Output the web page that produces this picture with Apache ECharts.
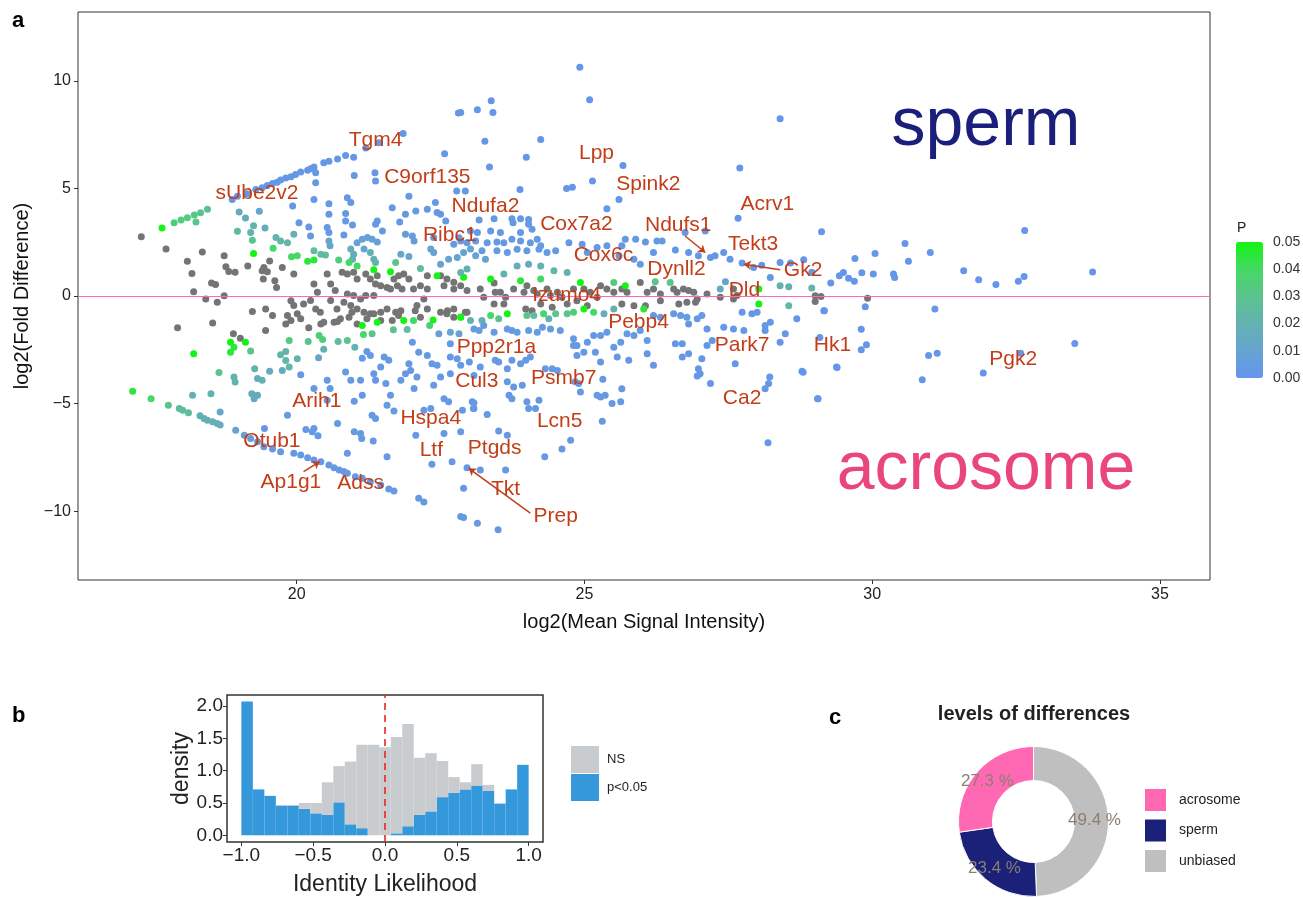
<!DOCTYPE html>
<html>
<head>
<meta charset="utf-8">
<script src="https://cdn.jsdelivr.net/npm/echarts@6/dist/echarts.min.js"></script>
<style>
  html, body { margin: 0; padding: 0; background: #fff; }
  #main { width: 1303px; height: 897px; }
</style>
</head>
<body>
<div id="main"></div>
<script>
// ---- panel a: MA plot ----
// non significant proteins [log2 mean intensity, log2 fold difference]
const nsPoints = [
  [17.30,2.75],[17.73,2.18],[18.10,1.61],[18.36,2.04],[18.18,1.05],[18.74,1.87],[18.77,1.36],[18.82,1.14],[18.93,1.10],[19.15,1.40],
  [18.52,0.60],[18.59,0.54],[18.21,0.20],[18.74,0.01],[19.43,1.33],[19.40,1.17],[19.49,1.13],[19.53,1.63],[19.42,0.79],[19.62,0.71],[19.65,0.40],
  [19.75,1.33],[19.95,1.02],[20.30,0.56],[20.59,0.56],[20.67,0.25],[20.36,0.17],[20.24,-0.21],[19.95,-0.44],[19.84,-0.91],[20.07,-1.06],
  [20.53,1.02],[20.79,1.10],[20.88,1.02],[20.99,1.10],[21.05,0.79],[21.20,1.02],[21.28,0.79],[21.40,0.94],[21.37,0.56],[21.46,0.48],
  [21.57,0.40],[21.69,0.79],[21.77,0.94],[21.86,1.02],[21.95,0.79],[21.75,0.48],[21.63,0.33],[21.83,0.33],[22.03,0.33],[22.15,0.48],
  [22.27,0.33],[22.27,0.94],[22.50,0.94],[22.61,0.79],[22.73,0.64],[22.85,0.48],[22.96,0.25],[22.73,0.33],[22.56,0.48],[22.21,-0.14],
  [22.09,-0.44],[22.06,-0.68],[22.27,-0.60],[22.50,-0.75],[22.61,-0.83],[22.73,-0.60],[22.93,-0.75],[20.59,-0.21],[20.70,-0.60],[20.82,-0.29],
  [20.94,-0.44],[20.96,-0.75],[21.05,-0.60],[21.17,-0.75],[21.22,-1.06],[21.28,-0.83],[21.46,-0.75],[21.57,-0.60],[21.72,-0.75],[21.77,-0.91],
  [20.76,-1.06],[20.65,-1.22],[20.47,-1.22],[20.41,-0.75],[21.11,-0.14],[20.88,0.09],[20.99,0.02],[21.20,0.02],[21.34,0.02],
  [17.93,-1.48],[18.54,-1.25],[18.42,-0.14],[18.62,-0.29],[19.23,-0.72],[19.46,-0.60],[19.58,-0.91],[19.46,-1.60],[18.90,-1.76],[19.02,-1.96],
  [19.90,-0.22],[20.01,-0.83],[19.90,-1.14],[19.81,-1.30],[20.12,-0.37],[20.33,-0.60],[20.21,-1.48],[20.42,-1.30],[20.71,-1.19],[20.91,-0.99],
  [21.05,-1.30],[21.34,-0.83],[21.46,-1.14],[21.66,-1.14],[21.81,-0.68],[22.15,-0.99],[22.62,-0.68],[22.73,-0.99],[22.96,-0.76],
  [23.19,0.32],[23.43,0.60],[23.54,0.17],[23.77,0.32],[24.00,0.48],[24.12,0.25],[24.35,0.32],[24.53,0.17],[24.81,0.32],[25.10,0.17],
  [25.28,0.48],[25.39,0.32],[25.65,0.32],[25.74,0.17],[25.97,0.63],[26.20,0.32],[26.32,0.09],[26.61,0.17],[26.72,0.32],[26.90,0.17],
  [26.96,-0.14],[27.13,0.09],[27.36,-0.06],[27.59,0.32],[27.65,0.02],
  [23.25,-0.06],[23.45,0.17],[23.63,-0.06],[23.95,0.17],[24.18,0.09],[24.41,0.02],[24.61,-0.06],[24.99,0.32],[25.22,-0.06],[25.51,0.17],
  [26.09,0.17],[26.55,0.32],[26.81,0.25],
  [23.43,-0.37],[23.60,-0.37],[23.98,-0.60],[24.09,-0.68],[24.24,-0.37],[24.44,-0.52],[24.70,-0.37],[24.87,-0.22],[25.05,-0.45],[25.65,-0.37],
  [25.86,-0.45],[26.06,-0.45],[26.32,-0.22],[26.64,-0.37],[26.78,-0.29],[26.93,-0.29],[27.59,-0.14],
  [29.01,0.01],[29.11,-0.02],[29.01,-0.25],[29.92,-0.11]
];

// significant proteins [log2 mean intensity, log2 fold difference, P]
const sigPoints = [
  [17.66,3.16,0.05],[17.87,3.41,0.035],[17.99,3.53,0.035],[18.10,3.64,0.033],[18.22,3.76,0.032],[18.33,3.87,0.03],[18.45,4.03,0.028],[18.25,3.44,0.03],
  [19.00,3.90,0.015],[19.11,3.63,0.015],[19.35,3.94,0.012],[19.25,3.27,0.02],[18.97,3.01,0.025],[19.20,2.95,0.02],[19.23,2.59,0.03],[19.45,3.16,0.015],
  [19.64,2.72,0.02],[19.25,1.98,0.05],[19.59,2.22,0.04],
  [18.88,4.49,0.002],[18.97,4.64,0.002],[19.14,4.75,0.002],[19.29,4.95,0.002],[19.40,5.03,0.002],[19.49,5.14,0.002],[19.58,5.23,0.002],[19.66,5.29,0.002],
  [19.72,5.39,0.002],[19.81,5.48,0.002],[19.90,5.54,0.002],[19.98,5.65,0.002],[20.07,5.76,0.002],[20.19,5.85,0.002],[20.24,5.91,0.002],[20.30,6.00,0.002],
  [20.47,6.19,0.002],[20.56,6.26,0.002],[20.71,6.37,0.002],[20.85,6.53,0.002],[20.99,6.45,0.002],[21.20,6.88,0.002],[21.43,7.12,0.002],[21.85,7.55,0.002],
  [22.81,8.50,0.002],[22.85,8.53,0.002],[23.14,8.66,0.002],
  [21.00,5.60,0.003],[20.33,5.73,0.003],[20.33,5.26,0.003],[22.57,6.61,0.003],[21.36,5.73,0.003],[21.37,5.34,0.003],[21.95,4.64,0.003],[21.66,4.10,0.003],
  [21.89,3.80,0.003],[22.07,3.95,0.003],[22.27,4.03,0.003],[22.41,4.34,0.003],[22.44,3.88,0.003],[22.50,3.80,0.003],[22.78,4.88,0.003],[22.93,4.88,0.003],
  [22.59,3.49,0.003],[21.79,3.44,0.003],[21.49,3.02,0.003],[21.40,3.49,0.003],[21.37,3.33,0.003],[20.88,4.57,0.003],[20.94,4.34,0.003],[20.56,4.29,0.003],
  [20.56,3.80,0.003],[20.85,3.84,0.003],[20.85,3.49,0.003],[20.97,3.30,0.003],[20.82,2.84,0.003],[20.53,3.18,0.003],[20.56,2.95,0.003],[20.21,3.21,0.003],
  [20.04,3.41,0.003],[20.24,2.79,0.003],[20.30,4.49,0.003],[19.93,4.18,0.003],[20.56,2.56,0.012],[20.58,2.33,0.012],[19.95,2.87,0.02],
  [19.72,2.56,0.022],[19.84,2.48,0.022],[20.30,2.10,0.025],[20.42,1.94,0.025],[20.50,1.90,0.025],[21.05,2.48,0.008],[21.14,2.64,0.008],[21.23,2.72,0.008],
  [21.31,2.64,0.008],[21.40,2.51,0.008],[20.94,2.18,0.018],[20.99,1.94,0.018],[20.97,1.71,0.018],[21.17,2.18,0.012],[21.28,2.02,0.02],[21.34,1.71,0.02],
  [21.37,1.56,0.02],
  [19.91,1.82,0.04],[20.01,1.87,0.04],[20.19,1.61,0.045],[20.30,1.67,0.045],[20.73,1.67,0.035],[20.91,1.56,0.04],[21.05,1.40,0.04],[21.34,1.22,0.05],
  [21.63,1.13,0.05],[21.72,1.56,0.03],[22.15,1.28,0.025],[22.44,0.94,0.05],[22.90,0.87,0.05],[21.81,1.94,0.012],[21.95,1.84,0.012],[22.33,2.18,0.01],
  [22.38,2.02,0.01],[22.50,1.48,0.01],[22.64,1.71,0.01],[22.79,1.79,0.01],[22.90,2.02,0.01],[23.02,2.18,0.01],[22.96,1.25,0.02],
  [21.89,2.87,0.006],[22.01,2.79,0.006],[22.04,2.56,0.006],[22.38,2.72,0.003],[22.73,2.41,0.003],[22.85,2.56,0.003],
  [18.85,-2.15,0.05],[18.91,-2.38,0.045],[19.11,-2.15,0.05],[18.85,-2.61,0.045],[19.20,-2.56,0.03],[18.21,-2.68,0.05],[17.15,-4.43,0.045],[17.47,-4.77,0.04],
  [17.77,-5.08,0.03],[17.96,-5.23,0.025],[18.02,-5.31,0.025],[18.12,-5.43,0.025],[18.32,-5.57,0.018],[18.39,-5.69,0.018],[18.45,-5.77,0.018],[18.54,-5.85,0.018],
  [18.62,-5.93,0.017],[18.67,-6.00,0.016],[18.94,-6.24,0.01],[19.09,-6.47,0.008],[19.20,-6.62,0.006],
  [19.32,-6.77,0.003],[19.43,-7.01,0.003],[19.58,-7.11,0.003],[19.72,-7.24,0.003],[19.95,-7.31,0.003],[20.07,-7.39,0.003],[20.19,-7.52,0.003],[20.30,-7.62,0.003],
  [20.42,-7.70,0.003],[20.56,-7.86,0.003],[20.65,-7.98,0.003],[20.74,-8.09,0.003],[20.82,-8.16,0.003],[20.88,-8.24,0.003],[21.02,-8.40,0.003],[21.14,-8.47,0.003],
  [21.28,-8.63,0.003],[21.46,-8.78,0.003],[21.60,-8.97,0.003],[21.69,-9.06,0.003],[22.12,-9.40,0.003],[22.21,-9.58,0.003],[22.85,-10.25,0.003],[22.90,-10.30,0.003],
  [23.14,-10.56,0.003],
  [18.19,-4.61,0.02],[18.51,-4.54,0.02],[18.67,-5.39,0.012],[18.91,-3.76,0.02],[18.93,-4.00,0.02],[18.65,-3.56,0.03],[19.27,-3.38,0.02],[19.32,-3.84,0.018],
  [19.40,-3.92,0.018],[19.53,-3.50,0.015],[19.22,-4.54,0.015],[19.26,-4.77,0.015],[19.32,-4.61,0.015],[19.72,-2.73,0.022],[19.81,-2.58,0.022],[19.81,-3.00,0.022],
  [19.87,-3.30,0.022],[20.01,-2.92,0.02],[19.75,-3.46,0.015],[19.87,-2.07,0.035],[20.20,-2.11,0.03],[20.39,-1.84,0.035],[20.45,-2.02,0.035],[20.47,-2.48,0.02],
  [20.38,-2.87,0.012],[20.72,-2.11,0.025],[20.88,-2.07,0.03],[21.01,-2.38,0.02],[21.16,-1.79,0.04],[21.31,-1.76,0.03],[21.68,-1.57,0.03],[21.92,-1.56,0.025],
  [22.31,-1.37,0.035],[22.37,-1.11,0.05],[21.14,-1.37,0.05],[21.40,-1.22,0.05],[21.86,-1.14,0.05],[22.03,-1.14,0.04],[22.85,-0.98,0.04],
  [20.07,-3.66,0.003],[20.30,-4.30,0.003],[20.53,-3.92,0.003],[20.58,-4.30,0.003],[20.85,-3.53,0.003],[20.94,-3.92,0.003],[21.14,-2.89,0.003],[21.22,-2.58,0.003],
  [21.28,-2.76,0.003],[21.11,-3.92,0.003],[21.14,-4.61,0.003],[21.00,-4.89,0.003],[21.34,-3.61,0.003],[21.37,-3.92,0.003],[21.46,-3.30,0.003],[21.52,-2.84,0.003],
  [21.60,-2.99,0.003],[21.31,-5.54,0.003],[21.37,-5.69,0.003],[21.55,-4.07,0.003],[21.63,-4.61,0.003],[21.57,-5.08,0.003],[21.69,-5.35,0.003],[21.81,-3.92,0.003],
  [21.89,-3.61,0.003],[21.98,-3.46,0.003],[22.04,-4.30,0.003],[21.95,-3.15,0.003],[22.09,-3.76,0.003],[22.21,-5.31,0.003],[22.33,-5.23,0.003],[22.38,-4.15,0.003],
  [22.50,-3.76,0.003],[22.56,-4.77,0.003],[22.64,-4.92,0.003],[22.27,-2.76,0.003],[22.35,-3.15,0.003],[22.44,-3.22,0.003],[22.01,-2.15,0.003],[22.12,-2.61,0.003],
  [22.67,-2.84,0.003],[22.79,-2.92,0.003],[22.85,-3.22,0.003],[23.00,-3.07,0.003],[23.08,-3.69,0.003],[23.05,-4.92,0.003],[22.85,-6.31,0.003],[22.56,-6.39,0.003],
  [22.07,-6.47,0.003],[22.70,-7.70,0.003],[22.35,-7.82,0.003],[22.96,-7.98,0.003],[22.90,-8.94,0.003],[21.57,-7.47,0.003],[20.88,-7.31,0.003],[20.71,-5.93,0.003],
  [21.00,-6.31,0.003],[21.11,-6.39,0.003],[21.13,-6.62,0.003],[21.33,-6.74,0.003],[20.37,-6.50,0.003],[20.30,-6.16,0.003],[20.27,-6.31,0.003],[20.16,-6.20,0.003],
  [19.84,-5.54,0.003],[19.44,-6.16,0.003],[20.53,-4.85,0.003],[22.67,-1.68,0.01],[22.82,-1.76,0.01],[22.47,-1.76,0.008],[22.67,-2.22,0.003],
  [24.92,10.63,0.001],[25.09,9.12,0.001],[23.38,9.07,0.001],[23.41,8.53,0.001],[28.40,8.24,0.001],[23.27,7.19,0.001],[24.24,7.27,0.001],[23.99,6.45,0.001],
  [25.67,6.06,0.001],[23.35,6.00,0.001],[27.70,5.95,0.001],[25.14,5.34,0.001],[24.69,5.00,0.001],[24.79,5.06,0.001],[23.88,4.95,0.001],[25.60,4.49,0.001],
  [25.39,4.06,0.001],[27.67,3.61,0.001],
  [23.17,3.53,0.003],[23.43,3.59,0.003],[23.74,3.59,0.003],[23.76,3.41,0.003],[23.89,3.59,0.003],[24.03,3.56,0.003],[24.09,3.10,0.003],[24.03,3.33,0.003],
  [23.02,3.02,0.003],[23.14,2.95,0.003],[23.37,3.02,0.003],[23.54,2.95,0.003],[23.89,2.95,0.003],[22.82,2.71,0.003],[22.96,2.48,0.003],[23.11,2.56,0.003],
  [23.31,2.48,0.003],[23.48,2.51,0.003],[23.60,2.48,0.003],[23.74,2.64,0.003],[23.89,2.56,0.003],[24.06,2.48,0.003],[24.18,2.64,0.003],[24.24,2.33,0.003],
  [23.22,2.10,0.004],[23.48,2.10,0.004],[23.66,2.02,0.004],[23.83,2.17,0.004],[24.00,2.10,0.004],[24.21,2.17,0.004],[24.35,2.02,0.004],[24.50,2.10,0.004],
  [24.73,2.48,0.003],[24.96,2.41,0.003],[25.05,2.02,0.003],[25.22,2.25,0.003],[25.39,2.33,0.003],[25.71,2.64,0.003],[25.89,2.64,0.003],[25.65,2.33,0.003],
  [26.06,2.51,0.003],[26.26,2.56,0.003],[26.35,2.56,0.003],[25.60,1.87,0.005],[25.86,1.71,0.005],[25.97,1.48,0.005],
  [26.20,2.02,0.002],[26.58,2.14,0.002],[26.81,2.02,0.002],[26.98,1.87,0.002],[27.19,1.79,0.002],[27.27,1.87,0.002],[27.42,2.02,0.002],[27.53,1.71,0.002],
  [27.74,1.53,0.002],[27.94,1.33,0.002],[28.08,1.43,0.002],[28.23,0.86,0.002],[28.40,1.56,0.002],[28.58,1.53,0.002],[28.95,1.10,0.002],[26.75,2.95,0.002],
  [27.10,3.02,0.002],
  [27.36,0.32,0.015],[27.45,0.66,0.01],[23.11,1.87,0.01],[23.28,1.71,0.01],[22.85,1.09,0.02],[23.60,1.02,0.02],[23.83,1.40,0.018],[24.03,1.48,0.015],
  [24.24,1.40,0.02],[24.47,1.17,0.022],[24.70,1.09,0.02],
  [23.37,0.79,0.05],[23.89,0.71,0.045],[24.24,0.79,0.04],[24.93,0.63,0.05],[25.71,0.48,0.05],[25.51,0.63,0.035],[26.23,0.66,0.03],[26.49,0.63,0.03],
  [28.03,0.32,0.05],[28.40,0.48,0.02],[28.55,0.43,0.02],[28.95,0.37,0.022],
  [22.85,-0.99,0.05],[23.02,-1.14,0.02],[23.22,-1.14,0.02],[23.37,-0.91,0.04],[23.51,-1.06,0.03],[23.66,-0.83,0.05],[24.00,-0.91,0.03],[24.12,-0.91,0.025],
  [24.29,-0.83,0.04],[24.38,-1.06,0.02],[24.50,-0.83,0.03],[24.70,-0.83,0.03],[24.81,-0.76,0.035],[24.99,-0.60,0.05],[25.16,-0.76,0.04],[25.34,-0.83,0.015],
  [25.51,-0.60,0.02],[26.03,-0.60,0.045],[28.03,-0.37,0.05],[28.55,-0.45,0.025],
  [23.08,-1.53,0.004],[23.17,-1.60,0.004],[23.25,-1.37,0.006],[23.43,-1.68,0.004],[23.66,-1.53,0.004],[23.74,-1.60,0.004],[23.83,-1.68,0.004],[24.03,-1.60,0.004],
  [24.18,-1.68,0.004],[24.27,-1.45,0.006],[24.41,-1.53,0.004],[24.58,-1.60,0.004],[24.81,-1.99,0.003],[24.87,-2.30,0.003],[25.05,-2.15,0.003],[25.16,-1.84,0.003],
  [25.28,-1.84,0.003],[25.39,-1.68,0.003],[25.51,-2.38,0.003],[25.63,-2.15,0.003],[25.74,-1.76,0.003],[25.86,-1.84,0.003],[25.97,-1.60,0.003],[26.09,-2.07,0.003],
  [26.20,-0.91,0.003],[26.32,-0.99,0.003],[26.55,-0.83,0.003],[26.67,-0.91,0.003],[26.78,-0.99,0.003],[26.96,-1.06,0.003],[27.04,-0.91,0.003],[26.81,-1.30,0.003],
  [27.13,-1.53,0.002],[27.22,-2.07,0.002],[27.42,-1.45,0.002],[27.59,-1.53,0.002],[27.77,-1.60,0.002],[27.74,-0.76,0.002],[27.91,-0.83,0.002],[28.00,-0.76,0.002],
  [28.14,-1.37,0.002],[28.23,-1.22,0.002],[28.14,-1.60,0.002],[28.40,-2.15,0.002],[28.49,-1.76,0.002],[28.69,-1.06,0.002],[29.16,-0.68,0.002],[26.58,-2.22,0.002],
  [26.70,-2.22,0.002],[26.70,-2.84,0.002],[26.81,-2.68,0.002],[27.04,-2.92,0.002],[27.13,-2.30,0.002],[26.20,-3.22,0.002],[26.09,-2.68,0.002],[25.77,-2.99,0.002],
  [25.57,-2.84,0.002],[26.98,-3.38,0.002],[27.01,-3.61,0.002],[26.96,-3.72,0.002],[27.19,-4.07,0.002],[27.62,-3.15,0.002],[28.22,-3.76,0.002],[28.20,-4.07,0.002],
  [28.14,-4.31,0.002],[28.78,-3.50,0.002],[29.38,-3.30,0.002],[29.06,-4.77,0.002],[28.19,-6.82,0.002],
  [23.19,-3.30,0.003],[23.45,-2.99,0.003],[23.51,-3.07,0.003],[23.66,-3.38,0.003],[23.74,-2.99,0.003],[23.89,-3.15,0.003],[23.98,-2.99,0.003],[24.06,-2.84,0.003],
  [22.67,-3.61,0.003],[22.88,-5.31,0.003],[23.08,-5.23,0.003],[23.66,-3.99,0.003],[23.77,-4.23,0.003],[23.92,-4.15,0.003],[23.69,-4.61,0.003],[23.74,-4.77,0.003],
  [24.00,-4.92,0.003],[24.03,-5.23,0.003],[24.15,-5.23,0.003],[24.21,-4.85,0.003],[24.32,-3.38,0.003],[24.44,-3.38,0.003],[24.53,-3.46,0.003],[24.90,-4.07,0.003],
  [24.93,-4.46,0.003],[24.84,-3.99,0.003],[25.22,-4.61,0.003],[25.28,-4.69,0.003],[25.36,-4.61,0.003],[25.32,-3.87,0.003],[25.65,-4.31,0.003],[25.48,-5.00,0.003],
  [25.63,-4.92,0.003],[25.31,-5.82,0.003],[24.87,-2.76,0.003],[24.99,-2.61,0.003],[24.81,-2.30,0.003],[25.19,-2.61,0.003],[25.28,-3.07,0.003],[24.76,-6.70,0.003],
  [24.61,-7.11,0.003],[24.31,-7.47,0.003],[23.31,-5.51,0.003],[23.08,-4.97,0.003],[23.07,-5.23,0.003],[23.51,-6.28,0.003],[23.66,-6.47,0.003],[23.63,-8.09,0.003],
  [23.19,-8.09,0.003],[23.50,-10.86,0.003],
  [29.12,2.99,0.001],[32.65,3.04,0.001],[30.57,2.44,0.001],[30.05,1.97,0.001],[31.01,2.02,0.001],[29.70,1.74,0.001],[28.81,1.68,0.001],[30.63,1.62,0.001],
  [31.59,1.17,0.001],[33.83,1.12,0.001],[29.50,1.09,0.001],[29.43,0.94,0.001],[29.82,1.08,0.001],[30.02,1.02,0.001],[30.37,1.02,0.001],[30.39,0.86,0.001],
  [29.59,0.82,0.001],[29.69,0.68,0.001],[29.28,0.60,0.001],[31.85,0.75,0.001],[32.15,0.54,0.001],[32.54,0.68,0.001],[32.64,0.91,0.001],
  [29.17,-0.68,0.001],[29.88,-0.50,0.001],[31.09,-0.60,0.001],[29.81,-1.55,0.001],[29.09,-1.93,0.001],[29.90,-2.27,0.001],[29.81,-2.50,0.001],[30.98,-2.76,0.001],
  [31.13,-2.66,0.001],[32.58,-2.66,0.001],[33.52,-2.21,0.001],[28.80,-3.54,0.001],[29.39,-3.32,0.001],[31.93,-3.58,0.001],[30.87,-3.89,0.001],[29.05,-4.77,0.001]
];

// gene labels placed in data units
const geneNames = ['Tgm4','C9orf135','sUbe2v2','Ndufa2','Ribc1','Lpp','Spink2','Cox7a2','Cox6c','Ndufs1','Acrv1','Tekt3','Gk2','Dynll2','Dld','Izumo4',
  'Pebp4','Park7','Hk1','Pgk2','Ppp2r1a','Cul3','Psmb7','Ca2','Lcn5','Arih1','Hspa4','Ltf','Ptgds','Otub1','Ap1g1','Adss','Tkt','Prep'];
const geneX = [21.37,22.27,19.31,23.28,22.66,25.21,26.11,24.86,25.33,26.63,28.18,27.93,28.80,26.60,27.78,24.69,
  25.94,27.74,29.31,32.45,23.47,23.13,24.64,27.74,24.57,20.35,22.33,22.34,23.44,19.57,19.90,21.11,23.63,24.50];
const geneY = [7.22,5.51,4.77,4.17,2.82,6.62,5.19,3.33,1.90,3.29,4.26,2.41,1.20,1.25,0.28,0.05,
  -1.20,-2.27,-2.27,-2.92,-2.36,-3.94,-3.84,-4.77,-5.83,-4.91,-5.69,-7.18,-7.08,-6.76,-8.66,-8.70,-8.98,-10.23];
// label arrows [from, to]
const arrowSegs = [
  [[26.75,2.79],[27.10,2.02]],
  [[28.40,1.22],[27.77,1.48]],
  [[20.12,-8.16],[20.40,-7.70]],
  [[24.06,-10.09],[22.99,-8.01]]
];
const xTicksA = [20, 25, 30, 35];
const yTicksA = [-10, -5, 0, 5, 10];
const pTicks = ['0.05', '0.04', '0.03', '0.02', '0.01', '0.00'];

// ---- panel b: identity likelihood histogram (stacked density) ----
const binEdges = [-1.00,-0.92,-0.84,-0.76,-0.68,-0.60,-0.52,-0.44,-0.36,-0.28,-0.20,-0.12,-0.04,0.04,0.12,0.20,0.28,0.36,0.44,0.52,0.60,0.68,0.76,0.84,0.92,1.00];
const sigDensity = [2.07,0.71,0.61,0.46,0.46,0.41,0.34,0.32,0.51,0.17,0.11,0,0,0.03,0.14,0.32,0.37,0.59,0.66,0.71,0.77,0.69,0.49,0.71,1.09];
const nsDensity  = [0,0,0,0,0,0.09,0.16,0.50,0.56,0.97,1.29,1.40,1.36,1.49,1.58,0.88,0.90,0.56,0.24,0.11,0.33,0.09,0,0,0];
const xTicksB = [-1, -0.5, 0, 0.5, 1];
const yTicksB = [0, 0.5, 1, 1.5, 2];

// ---- panel c: levels of differences ----
const donutNames = ['unbiased', 'sperm', 'acrosome'];
const donutValues = [49.4, 23.4, 27.3];
const donutColors = ['#bfbfbf', '#1b2078', '#ff69b4'];

const minus = v => String(v).replace('-', '\u2212');
const sans = 'Liberation Sans, Arial, sans-serif';

const chart = echarts.init(document.getElementById('main'));

const histBins = (dens, base) => dens.map((d, i) => [binEdges[i], binEdges[i + 1], d, base ? base[i] : 0]);
const histRender = color => function (params, api) {
  const b = api.value(3);
  const top = api.coord([api.value(0), b + api.value(2)]);
  const bot = api.coord([api.value(1), b]);
  return { type: 'rect', shape: { x: top[0], y: top[1], width: bot[0] - top[0], height: bot[1] - top[1] }, style: { fill: color } };
};

const option = {
  backgroundColor: '#fff',
  animation: false,
  textStyle: { fontFamily: sans },
  grid: [
    { left: 78, top: 12, width: 1132, height: 568, show: true, borderColor: '#333', borderWidth: 1 },
    { left: 227, top: 695, width: 316, height: 148, show: true, borderColor: '#333', borderWidth: 1.5 }
  ],
  xAxis: [
    {
      gridIndex: 0, type: 'value', min: 16.2, max: 35.87,
      axisLine: { show: false, onZero: false },
      axisTick: { show: true, length: 4, lineStyle: { color: '#333' }, customValues: xTicksA },
      axisLabel: { fontSize: 16, color: '#222', margin: 7, customValues: xTicksA },
      splitLine: { show: false },
      name: 'log2(Mean Signal Intensity)', nameLocation: 'middle', nameGap: 32,
      nameTextStyle: { fontSize: 20, color: '#111' }
    },
    {
      gridIndex: 1, type: 'value', min: -1.1, max: 1.1,
      axisLine: { show: false, onZero: false },
      axisTick: { show: true, length: 4, lineStyle: { color: '#333' }, customValues: xTicksB },
      axisLabel: { fontSize: 19, color: '#222', margin: 4, customValues: xTicksB,
        formatter: v => minus(v.toFixed(1)) },
      splitLine: { show: false },
      name: 'Identity Likelihood', nameLocation: 'middle', nameGap: 31,
      nameTextStyle: { fontSize: 23, color: '#222' }
    }
  ],
  yAxis: [
    {
      gridIndex: 0, type: 'value', min: -13.2, max: 13.2,
      axisLine: { show: false, onZero: false },
      axisTick: { show: true, length: 4, lineStyle: { color: '#333' }, customValues: yTicksA },
      axisLabel: { fontSize: 16, color: '#222', margin: 7, customValues: yTicksA, formatter: v => minus(v) },
      splitLine: { show: false },
      name: 'log2(Fold Difference)', nameLocation: 'middle', nameGap: 46,
      nameTextStyle: { fontSize: 20, color: '#111' }
    },
    {
      gridIndex: 1, type: 'value', min: -0.1035, max: 2.17,
      axisLine: { show: false, onZero: false },
      axisTick: { show: true, length: 4, lineStyle: { color: '#333' }, customValues: yTicksB },
      axisLabel: { fontSize: 19, color: '#222', margin: 4, customValues: yTicksB,
        formatter: v => v.toFixed(1) },
      splitLine: { show: false },
      name: 'density', nameLocation: 'middle', nameGap: 33,
      nameTextStyle: { fontSize: 23, color: '#222' }
    }
  ],
  visualMap: {
    type: 'continuous', seriesIndex: 1, dimension: 2, min: 0, max: 0.05,
    left: 1236, top: 242, itemWidth: 27, itemHeight: 136, padding: 0,
    calculable: false, text: null,
    inRange: { color: ['#6495ed', '#66a3d0', '#64b2b0', '#5bc38e', '#44d965', '#12f512'] }
  },
  legend: [
    {
      data: ['NS', 'p<0.05'], orient: 'vertical', left: 571, top: 746, padding: 0,
      icon: 'rect', itemWidth: 28, itemHeight: 27, itemGap: 1, selectedMode: false,
      textStyle: { fontSize: 13, color: '#222', fontFamily: sans, padding: [0, 0, 0, 3] }
    },
    {
      data: ['acrosome', 'sperm', 'unbiased'], orient: 'vertical', left: 1143, top: 787, padding: 0,
      icon: 'rect', itemWidth: 23, itemHeight: 24, itemGap: 4.5, selectedMode: false,
      textStyle: { fontSize: 14, color: '#222', fontFamily: sans, padding: [0, 0, 0, 7] }
    }
  ],
  graphic: [
    { type: 'text', left: 12, top: 10, style: { text: 'a', font: 'bold 22px Liberation Sans, Arial', fill: '#000' } },
    { type: 'text', left: 12, top: 705, style: { text: 'b', font: 'bold 22px Liberation Sans, Arial', fill: '#000' } },
    { type: 'text', left: 829, top: 707, style: { text: 'c', font: 'bold 22px Liberation Sans, Arial', fill: '#000' } },
    { type: 'text', x: 986, y: 126, style: { text: 'sperm', font: '68px Liberation Sans, Arial', fill: '#1b1f7b', align: 'center', verticalAlign: 'middle' } },
    { type: 'text', x: 986, y: 470, style: { text: 'acrosome', font: '68px Liberation Sans, Arial', fill: '#e9457f', align: 'center', verticalAlign: 'middle' } },
    { type: 'text', x: 1237, y: 228, style: { text: 'P', font: '14px Liberation Sans, Arial', fill: '#222', verticalAlign: 'middle' } },
    ...pTicks.map((t, i) => ({ type: 'text', x: 1273, y: 242 + i * 27.2,
      style: { text: t, font: '14px Liberation Sans, Arial', fill: '#333', verticalAlign: 'middle' } })),
    { type: 'text', x: 1034, y: 714, style: { text: 'levels of differences', font: 'bold 20px Liberation Sans, Arial', fill: '#222', align: 'center', verticalAlign: 'middle' } }
  ],
  series: [
    {
      name: 'NS-points', type: 'scatter', xAxisIndex: 0, yAxisIndex: 0,
      data: nsPoints, symbolSize: 7, itemStyle: { color: '#747474', opacity: 1 },
      markLine: { silent: true, symbol: 'none', label: { show: false },
        lineStyle: { color: '#ff69b4', width: 1.2, type: 'solid' }, data: [{ yAxis: 0 }] }
    },
    {
      name: 'sig-points', type: 'scatter', xAxisIndex: 0, yAxisIndex: 0,
      data: sigPoints, symbolSize: 7, itemStyle: { opacity: 1 }
    },
    {
      name: 'genes', type: 'scatter', xAxisIndex: 0, yAxisIndex: 0, z: 5, silent: true,
      data: geneNames.map((n, i) => ({ name: n, value: [geneX[i], geneY[i]] })),
      symbolSize: 1, itemStyle: { color: 'rgba(0,0,0,0)' },
      label: { show: true, position: 'inside', formatter: '{b}', fontSize: 21, color: '#c23d18',
        opacity: 1, textBorderWidth: 0, textShadowBlur: 0 }
    },
    {
      name: 'arrows', type: 'lines', coordinateSystem: 'cartesian2d', xAxisIndex: 0, yAxisIndex: 0, z: 5,
      data: arrowSegs.map(s => ({ coords: s })),
      symbol: ['none', 'arrow'], symbolSize: 7,
      lineStyle: { color: '#c23d18', width: 1.5, opacity: 1 }
    },
    {
      name: 'p<0.05', type: 'custom', xAxisIndex: 1, yAxisIndex: 1,
      data: histBins(sigDensity), encode: { x: [0, 1], y: 2 },
      renderItem: histRender('#3498db'), itemStyle: { color: '#3498db' },
      markLine: { silent: true, symbol: 'none', label: { show: false },
        lineStyle: { color: '#e8281e', width: 1.6, type: [7, 5] }, data: [{ xAxis: 0 }] }
    },
    {
      name: 'NS', type: 'custom', xAxisIndex: 1, yAxisIndex: 1,
      data: histBins(nsDensity, sigDensity), encode: { x: [0, 1], y: 2 },
      renderItem: histRender('#c9cccf'), itemStyle: { color: '#c9cccf' }
    },
    {
      name: 'levels', type: 'pie', center: [1033.5, 821.5], radius: [41, 75],
      startAngle: 90, clockwise: true, avoidLabelOverlap: false,
      itemStyle: { borderColor: '#fff', borderWidth: 1 },
      label: { show: true, position: 'inside', formatter: p => p.value + ' %', fontSize: 17, color: '#8d7e72' },
      labelLine: { show: false },
      data: donutNames.map((n, i) => ({ name: n, value: donutValues[i], itemStyle: { color: donutColors[i] } }))
    }
  ]
};

chart.setOption(option);
</script>
</body>
</html>
